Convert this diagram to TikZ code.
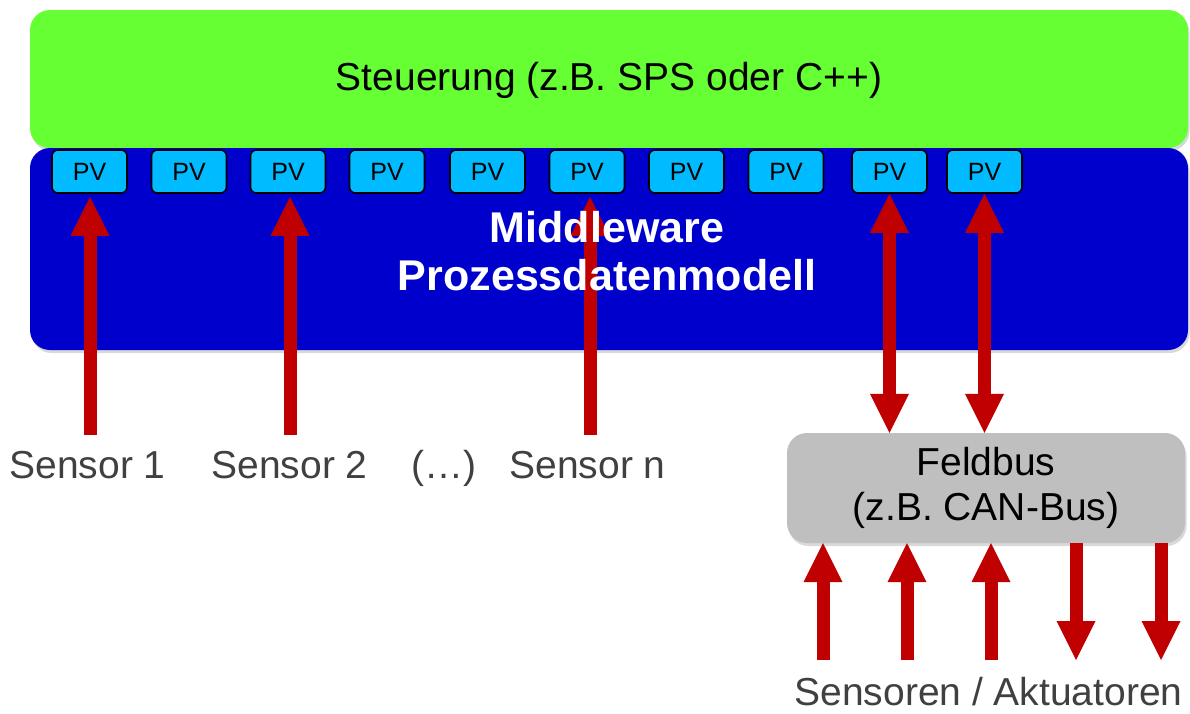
\documentclass[tikz,border=0pt]{standalone}
\usepackage{fontspec}
\setmainfont{Liberation Sans}
\usetikzlibrary{arrows.meta,shadows}
\definecolor{ctrlgreen}{HTML}{66FF33}
\definecolor{mwblue}{HTML}{0000CC}
\definecolor{pvcyan}{HTML}{00BBFF}
\definecolor{arrowred}{HTML}{C00000}
\definecolor{busgray}{HTML}{BFBFBF}
\definecolor{labelgray}{HTML}{404040}
\tikzset{
  layerbox/.style={rounded corners=20pt, draw=none, inner sep=0pt,
    drop shadow={shadow xshift=1.5pt, shadow yshift=-3pt, opacity=0.3}},
  pvbox/.style={draw=black, line width=1.6pt, fill=pvcyan, rounded corners=6pt,
    minimum width=75pt, minimum height=43pt, inner sep=0pt,
    font=\fontsize{25}{30}\selectfont},
  redtip/.tip={Triangle[length=39pt,width=39pt,line width=0pt]},
  bigarrow/.style={draw=arrowred, line width=13pt, -redtip},
  bigdouble/.style={draw=arrowred, line width=13pt, redtip-redtip},
  sensorlabel/.style={text=labelgray, anchor=base, inner sep=0pt,
    font=\fontsize{39}{44}\selectfont},
}
\begin{document}
\begin{tikzpicture}[x=1pt,y=-1pt]
\useasboundingbox (0,0) rectangle (1190,713);
% control layer
\node[layerbox, fill=ctrlgreen, minimum width=1158pt, minimum height=138pt,
  text height=30pt, text depth=8pt,
  font=\fontsize{39}{44}\selectfont] (ctrl) at (609,79) {Steuerung (z.B. SPS oder C++)};
% middleware layer
\node[layerbox, fill=mwblue, minimum width=1158pt, minimum height=202pt] (mw) at (609,249) {};
% process variables
\foreach \i/\x in {1/89.5,2/189,3/288,4/387,5/487.5,6/587,7/686.5,8/786,9/889.5,10/984.5}{
  \node[pvbox] (pv\i) at (\x,171.5) {PV};
}
% field bus
\node[layerbox, fill=busgray, minimum width=398pt, minimum height=110pt, align=center,
  font=\fontsize{39}{45}\selectfont] (bus) at (986,488) {Feldbus\\(z.B. CAN-Bus)};
% sensor labels
\node[sensorlabel] (s1) at (87.5,478) {Sensor 1};
\node[sensorlabel] (s2) at (289.5,478) {Sensor 2};
\node[sensorlabel] (sdots) at (444,478) {(…)};
\node[sensorlabel] (sn) at (587.5,478) {Sensor n};
\node[sensorlabel] (sa) at (988.5,705) {Sensoren / Aktuatoren};
% arrow tails
\coordinate (t1) at (90,435);
\coordinate (t2) at (290,435);
\coordinate (tn) at (590,435);
\coordinate (b1) at (823,660);
\coordinate (b2) at (907,660);
\coordinate (b3) at (991,660);
\coordinate (b4) at (1076,660);
\coordinate (b5) at (1161,660);
% sensor arrows
\draw[bigarrow, shorten >=3pt] (t1) -- (t1 |- pv1.south);
\draw[bigarrow, shorten >=3pt] (t2) -- (t2 |- pv3.south);
\draw[bigarrow, shorten >=3pt] (tn) -- (tn |- pv6.south);
% PV <-> bus
\draw[bigdouble] (pv9.south) -- (pv9.south |- bus.north);
\draw[bigdouble] (pv10.south) -- (pv10.south |- bus.north);
% bus sensors / actuators
\draw[bigarrow] (b1) -- (b1 |- bus.south);
\draw[bigarrow] (b2) -- (b2 |- bus.south);
\draw[bigarrow] (b3) -- (b3 |- bus.south);
\draw[bigarrow] (b4 |- bus.south) -- (b4);
\draw[bigarrow] (b5 |- bus.south) -- (b5);
% middleware label on top
\node[text=white, align=center, inner sep=0pt,
  font=\fontsize{43}{48}\selectfont\bfseries] (mwtext) at (607,251) {Middleware\\Prozessdatenmodell};
\end{tikzpicture}
\end{document}
